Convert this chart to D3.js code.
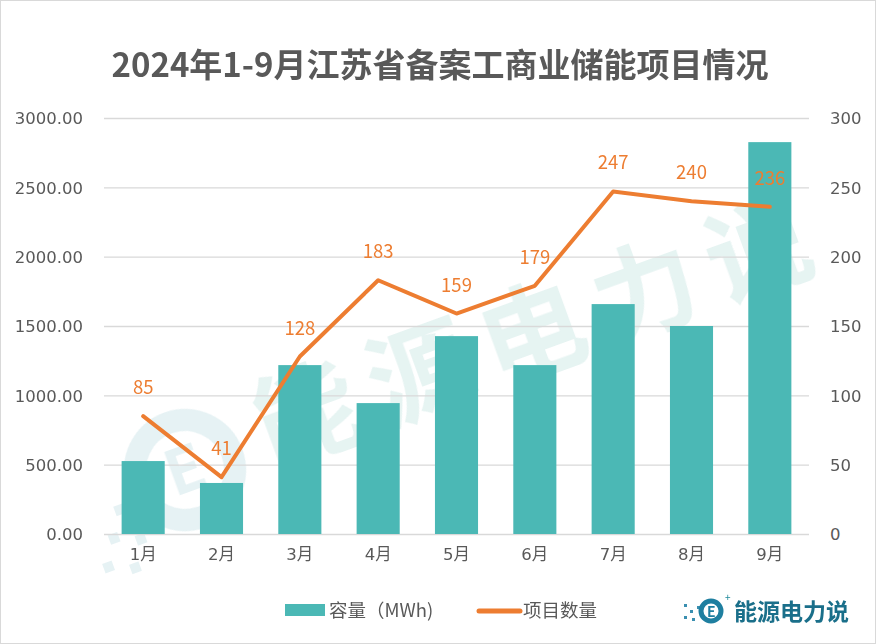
<!DOCTYPE html>
<html><head><meta charset="utf-8">
<script src="https://cdn.jsdelivr.net/npm/d3@7"></script>
<style>body{margin:0;background:#fff}svg{display:block}</style>
</head><body>
<script>
const months = ["1月","2月","3月","4月","5月","6月","7月","8月","9月"];
const capacity = [526, 368, 1218, 944, 1427, 1218, 1658, 1500, 2826];
const projects = [85, 41, 128, 183, 159, 179, 247, 240, 236];
const leftTicks = [0, 500, 1000, 1500, 2000, 2500, 3000];
const rightTicks = [0, 50, 100, 150, 200, 250, 300];
const title = "2024年1-9月江苏省备案工商业储能项目情况";
const legendNames = ["容量（MWh)", "项目数量"];

const W = 876, H = 644;
const font = "'Noto Sans CJK SC','Microsoft YaHei',sans-serif";
const numFont = "'DejaVu Sans','Noto Sans CJK SC',sans-serif";
const svg = d3.select("body").append("svg").attr("width", W).attr("height", H);
svg.append("rect").attr("x",0.5).attr("y",0.5).attr("width",W-1).attr("height",H-1)
  .attr("fill","#fff").attr("stroke","#d9d9d9");

const m = {l:104, r:809, t:118, b:534};
const x = d3.scaleBand().domain(months).range([m.l, m.r]).paddingInner(0.45).paddingOuter(0.225);
const yL = d3.scaleLinear().domain([0,3000]).range([m.b, m.t]);
const yR = d3.scaleLinear().domain([0,300]).range([m.b, m.t]);

// watermark
const wm = svg.append("g").attr("opacity",0.12);
const wt = wm.append("g").attr("transform","translate(540,330) rotate(-20)");
wt.append("text").attr("x",0).attr("y",38).attr("text-anchor","middle")
  .attr("font-family",font).attr("font-weight","bold").attr("font-size",104).attr("fill","#2a9d8f")
  .attr("letter-spacing",16).text("能源电力说");
const wl = wm.append("g").attr("transform","translate(185,470) rotate(-20)");
wl.append("circle").attr("r",50).attr("fill","none").attr("stroke","#2a8fa0").attr("stroke-width",22);
wl.append("text").attr("x",0).attr("y",22).attr("text-anchor","middle").attr("font-family",font)
  .attr("font-weight","bold").attr("font-size",62).attr("fill","#2a8fa0").text("E");
[[-80,10],[-95,35],[-70,45],[-110,60],[-85,70]].forEach(([a,b])=>
  wl.append("rect").attr("x",a).attr("y",b).attr("width",10).attr("height",10).attr("fill","#2a8fa0"));

// grid
svg.append("g").selectAll("line").data(leftTicks).join("line")
  .attr("x1",m.l).attr("x2",m.r).attr("y1",d=>yL(d)+0.5).attr("y2",d=>yL(d)+0.5)
  .attr("stroke","#d9d9d9").attr("stroke-width",1.3);

// left axis
const axL = svg.append("g").attr("transform",`translate(${m.l-18},0)`)
  .call(d3.axisLeft(yL).tickValues(leftTicks).tickFormat(d3.format(".2f")).tickSize(0));
axL.select(".domain").remove();
axL.selectAll("text").attr("font-family",numFont).attr("font-size",16.5).attr("fill","#595959").attr("dy","0.35em");

// right axis
const axR = svg.append("g").attr("transform",`translate(${m.r+18},0)`)
  .call(d3.axisRight(yR).tickValues(rightTicks).tickSize(0));
axR.select(".domain").remove();
axR.selectAll("text").attr("font-family",numFont).attr("font-size",16.5).attr("fill","#595959").attr("dy","0.35em");

// bottom axis
const axB = svg.append("g").attr("transform",`translate(0,${m.b})`)
  .call(d3.axisBottom(x).tickSize(0).tickPadding(14));
axB.select(".domain").remove();
axB.selectAll("text").attr("font-family",numFont).attr("font-size",16.5).attr("fill","#595959");

// bars
svg.append("g").selectAll("rect").data(capacity).join("rect")
  .attr("x",(d,i)=>x(months[i])).attr("width",x.bandwidth())
  .attr("y",d=>yL(d)).attr("height",d=>yL(0)-yL(d)).attr("fill","#4BB8B5");

// line
const cx = i => x(months[i]) + x.bandwidth()/2;
const line = d3.line().x((d,i)=>cx(i)).y(d=>yR(d));
svg.append("path").datum(projects).attr("d",line).attr("fill","none")
  .attr("stroke","#ED7D31").attr("stroke-width",4).attr("stroke-linejoin","round").attr("stroke-linecap","round");

svg.append("g").selectAll("text").data(projects).join("text")
  .attr("x",(d,i)=>cx(i)).attr("y",d=>yR(d)-22).attr("text-anchor","middle")
  .attr("font-family","'Liberation Sans Narrow','Noto Sans CJK SC',sans-serif").attr("font-size",18.5).attr("fill","#ED7D31").text(d=>d);

// title
svg.append("text").attr("x",440).attr("y",77).attr("text-anchor","middle")
  .attr("font-family",font).attr("font-weight","bold").attr("font-size",33).attr("fill","#595959").text(title);

// legend
const lg = svg.append("g").attr("font-family",font).attr("font-size",18.5).attr("fill","#595959");
lg.append("rect").attr("x",285).attr("y",604).attr("width",40).attr("height",12).attr("fill","#4BB8B5");
lg.append("text").attr("x",329).attr("y",617).text(legendNames[0]);
lg.append("line").attr("x1",479).attr("x2",520).attr("y1",611).attr("y2",611)
  .attr("stroke","#ED7D31").attr("stroke-width",5).attr("stroke-linecap","round");
lg.append("text").attr("x",523).attr("y",617).text(legendNames[1]);

// logo
const logo = svg.append("g");
[[684,604],[690,610],[684,616],[692,618],[697,606]].forEach(([a,b])=>
  logo.append("rect").attr("x",a).attr("y",b).attr("width",3).attr("height",3).attr("fill","#3a8fb0"));
logo.append("circle").attr("cx",711).attr("cy",611).attr("r",10).attr("fill","none").attr("stroke","#1f7fa0").attr("stroke-width",5);
logo.append("text").attr("x",707).attr("y",616.5).attr("font-family",font).attr("font-weight","bold").attr("font-size",14).attr("fill","#1f7fa0").text("E");
logo.append("text").attr("x",725).attr("y",601).attr("font-family",font).attr("font-size",10).attr("fill","#1f8a9a").text("+");
logo.append("text").attr("x",734).attr("y",620).attr("font-family",font).attr("font-weight","bold").attr("font-size",23).attr("fill","#1a6f8a").text("能源电力说");
</script>
</body></html>
